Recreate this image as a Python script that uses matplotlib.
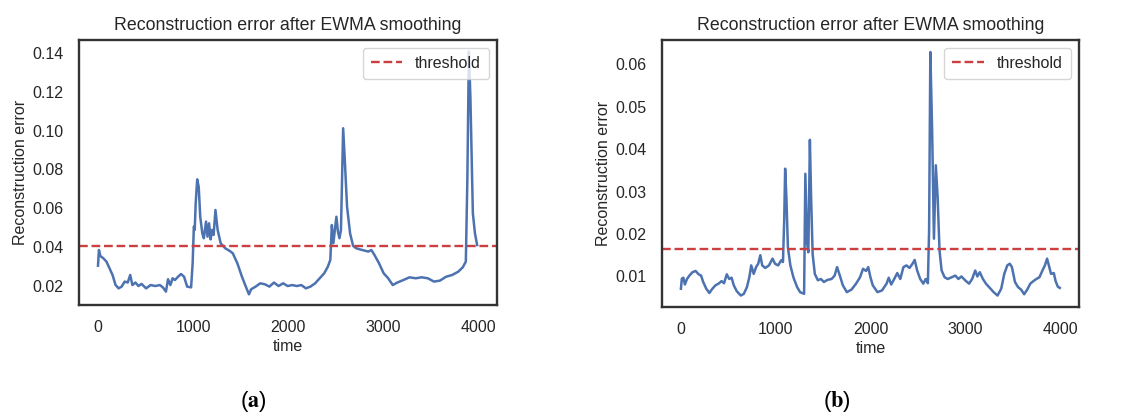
import matplotlib
matplotlib.use("Agg")
import matplotlib.pyplot as plt

# panel (a)
time_a = [0, 10, 25, 57, 89, 121, 153, 185, 217, 249, 281, 313, 339, 362, 394,
          426, 458, 506, 554, 603, 651, 683, 715, 737, 762, 785, 810, 842, 874,
          906, 938, 980, 996, 1009, 1018, 1028, 1044, 1060, 1076, 1098, 1114,
          1137, 1153, 1169, 1185, 1201, 1217, 1236, 1259, 1291, 1339, 1387,
          1419, 1467, 1515, 1563, 1589, 1611, 1659, 1707, 1756, 1804, 1852,
          1900, 1948, 1996, 2044, 2092, 2140, 2188, 2236, 2285, 2333, 2381,
          2419, 2445, 2461, 2477, 2493, 2509, 2525, 2541, 2557, 2580, 2599,
          2621, 2653, 2685, 2717, 2781, 2845, 2877, 2910, 2958, 3006, 3054,
          3102, 3150, 3214, 3278, 3343, 3407, 3471, 3535, 3599, 3663, 3727,
          3791, 3839, 3871, 3887, 3903, 3919, 3945, 3967, 3990]
err_a = [0.0303, 0.0384, 0.0353, 0.0341, 0.0324, 0.0290, 0.0255, 0.0203,
         0.0186, 0.0195, 0.0221, 0.0216, 0.0255, 0.0203, 0.0216, 0.0198,
         0.0209, 0.0186, 0.0203, 0.0198, 0.0203, 0.0191, 0.0169, 0.0233,
         0.0203, 0.0238, 0.0229, 0.0246, 0.0260, 0.0246, 0.0195, 0.0191,
         0.0315, 0.0505, 0.0488, 0.0625, 0.0749, 0.0711, 0.0556, 0.0470,
         0.0445, 0.0531, 0.0453, 0.0522, 0.0439, 0.0488, 0.0462, 0.0591,
         0.0488, 0.0419, 0.0393, 0.0379, 0.0367, 0.0315, 0.0246, 0.0186,
         0.0155, 0.0181, 0.0195, 0.0212, 0.0207, 0.0195, 0.0216, 0.0198,
         0.0212, 0.0198, 0.0203, 0.0198, 0.0203, 0.0186, 0.0195, 0.0212,
         0.0238, 0.0264, 0.0298, 0.0333, 0.0513, 0.0419, 0.0488, 0.0556,
         0.0479, 0.0445, 0.0488, 0.1013, 0.0832, 0.0608, 0.0470, 0.0405,
         0.0393, 0.0384, 0.0376, 0.0384, 0.0358, 0.0315, 0.0264, 0.0238,
         0.0203, 0.0216, 0.0229, 0.0243, 0.0238, 0.0243, 0.0238, 0.0221,
         0.0226, 0.0246, 0.0255, 0.0272, 0.0295, 0.0324, 0.0746, 0.1409,
         0.1176, 0.0574, 0.0470, 0.0410]
threshold_a = 0.0406

# panel (b)
time_b = [0, 10, 26, 42, 64, 90, 122, 155, 187, 213, 235, 268, 300, 332, 364,
          397, 429, 455, 484, 510, 535, 558, 590, 632, 664, 697, 722, 742, 768,
          793, 816, 838, 858, 890, 929, 967, 993, 1026, 1058, 1077, 1090, 1100,
          1113, 1129, 1155, 1187, 1226, 1258, 1300, 1313, 1332, 1345, 1361,
          1374, 1390, 1413, 1445, 1477, 1509, 1548, 1590, 1622, 1648, 1677,
          1709, 1751, 1800, 1848, 1890, 1922, 1954, 1977, 2000, 2025, 2074,
          2122, 2170, 2193, 2219, 2251, 2283, 2315, 2348, 2380, 2412, 2444,
          2467, 2493, 2525, 2558, 2583, 2606, 2619, 2632, 2651, 2670, 2690,
          2709, 2729, 2751, 2783, 2815, 2857, 2896, 2928, 2960, 2999, 3041,
          3073, 3106, 3128, 3154, 3187, 3219, 3251, 3300, 3341, 3380, 3412,
          3444, 3470, 3493, 3525, 3557, 3590, 3622, 3654, 3687, 3719, 3751,
          3783, 3815, 3841, 3864, 3883, 3906, 3935, 3954, 3977, 3998]
err_b = [0.0071, 0.0095, 0.0097, 0.0081, 0.0094, 0.0102, 0.0110, 0.0113,
         0.0105, 0.0102, 0.0087, 0.0071, 0.0061, 0.0071, 0.0079, 0.0083,
         0.0089, 0.0084, 0.0105, 0.0094, 0.0097, 0.0079, 0.0065, 0.0055,
         0.0059, 0.0075, 0.0098, 0.0126, 0.0106, 0.0122, 0.0130, 0.0150,
         0.0126, 0.0120, 0.0126, 0.0142, 0.0130, 0.0126, 0.0138, 0.0134,
         0.0232, 0.0354, 0.0287, 0.0169, 0.0126, 0.0098, 0.0075, 0.0063,
         0.0059, 0.0342, 0.0177, 0.0157, 0.0422, 0.0287, 0.0153, 0.0106,
         0.0091, 0.0094, 0.0087, 0.0092, 0.0094, 0.0102, 0.0122, 0.0102,
         0.0079, 0.0063, 0.0069, 0.0083, 0.0098, 0.0118, 0.0113, 0.0122,
         0.0098, 0.0079, 0.0063, 0.0067, 0.0083, 0.0097, 0.0081, 0.0094,
         0.0108, 0.0094, 0.0122, 0.0126, 0.0120, 0.0130, 0.0139, 0.0114,
         0.0094, 0.0083, 0.0094, 0.0084, 0.0208, 0.0629, 0.0444, 0.0189,
         0.0362, 0.0287, 0.0161, 0.0114, 0.0098, 0.0094, 0.0098, 0.0102,
         0.0094, 0.0100, 0.0091, 0.0083, 0.0094, 0.0114, 0.0100, 0.0110,
         0.0094, 0.0083, 0.0075, 0.0063, 0.0055, 0.0071, 0.0106, 0.0126,
         0.0130, 0.0122, 0.0087, 0.0075, 0.0069, 0.0058, 0.0069, 0.0083,
         0.0089, 0.0094, 0.0098, 0.0114, 0.0126, 0.0142, 0.0126, 0.0106,
         0.0108, 0.0089, 0.0076, 0.0073]
threshold_b = 0.0165

yticks_a = [0.02, 0.04, 0.06, 0.08, 0.10, 0.12, 0.14]
yticks_b = [0.01, 0.02, 0.03, 0.04, 0.05, 0.06]
xticks = [0, 1000, 2000, 3000, 4000]

plt.rcParams['font.family'] = ['Liberation Sans', 'DejaVu Sans']
plt.rcParams['text.color'] = '.15'
plt.rcParams['axes.labelcolor'] = '.15'
plt.rcParams['xtick.color'] = '.15'
plt.rcParams['ytick.color'] = '.15'
plt.rcParams['mathtext.fontset'] = 'stix'

fig = plt.figure(figsize=(11.3, 4.17), dpi=100)
ax_a = fig.add_axes([0.0699, 0.2686, 0.370, 0.6355])
ax_b = fig.add_axes([0.5858, 0.2638, 0.369, 0.640])

panels = [(ax_a, time_a, err_a, threshold_a, yticks_a),
          (ax_b, time_b, err_b, threshold_b, yticks_b)]

for ax, t, e, thr, yt in panels:
    ax.plot(t, e, color='#4C72B0', lw=1.8)
    ax.axhline(thr, color='#cc3f41', ls='--', lw=1.7, label='threshold')
    ax.set_xlim(-200, 4200)
    ax.set_xticks(xticks)
    ax.set_yticks(yt)
    ax.set_yticklabels(['{:.2f}'.format(v) for v in yt])
    ax.tick_params(length=0, pad=11, labelsize=11.5)
    ax.set_title('Reconstruction error after EWMA smoothing', fontsize=12.8, pad=7)
    ax.set_xlabel('time', fontsize=11.5, labelpad=3)
    ax.set_ylabel('Reconstruction error', fontsize=11.5, labelpad=3)
    for s in ax.spines.values():
        s.set_color('.2')
        s.set_linewidth(1.7)
    leg = ax.legend(loc='upper right', fontsize=11.5, fancybox=True,
                    framealpha=0.8, borderpad=0.5)
    leg.get_frame().set_edgecolor('.8')

ax_a.set_ylim(0.0100, 0.1469)
ax_b.set_ylim(0.0028, 0.0657)

fig.text(253 / 1130, 1 - 402 / 417, r'($\mathbf{a}$)', ha='center', va='center',
         fontsize=16, color='black')
fig.text(837 / 1130, 1 - 402 / 417, r'($\mathbf{b}$)', ha='center', va='center',
         fontsize=16, color='black')

fig.savefig('out.png', dpi=100)
